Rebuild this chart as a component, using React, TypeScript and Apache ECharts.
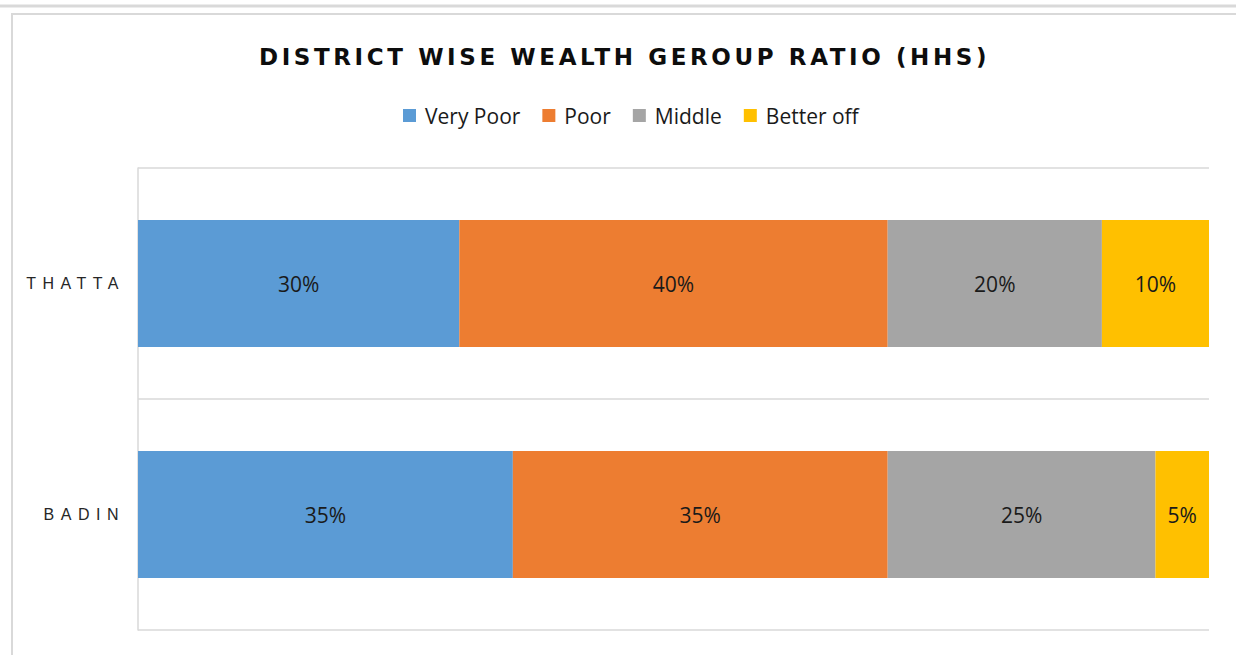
import React, { useEffect, useRef } from "react";
import * as echarts from "echarts";

const titleText = "DISTRICT WISE WEALTH GEROUP RATIO (HHS)";
const districts = ["BADIN", "THATTA"];
const seriesNames = ["Very Poor", "Poor", "Middle", "Better off"];
const veryPoor = [35, 30];
const poor = [35, 40];
const middle = [25, 20];
const betterOff = [5, 10];
const colors = ["#5b9bd5", "#ed7d31", "#a5a5a5", "#ffc000"];

const FONT = "Open Sans";

const css = `
#chart-box svg text[style*="DejaVu"], #chart-box svg text[font-family*="DejaVu"] { letter-spacing: 3.6px; }
#chart-box svg text[style*="Liberation"], #chart-box svg text[font-family*="Liberation"] { letter-spacing: 6.5px; }
`;

export default function App() {
  const ref = useRef<HTMLDivElement>(null);
  useEffect(() => {
    if (!ref.current) return;
    const chart = echarts.init(ref.current, null, { renderer: "svg" });
    const data = [veryPoor, poor, middle, betterOff];
    chart.setOption({
      animation: false,
      backgroundColor: "#ffffff",
      title: {
        text: titleText,
        left: 254,
        top: 40,
        padding: 5,
        textStyle: {
          fontFamily: "DejaVu Sans",
          fontWeight: "bold",
          fontSize: 23,
          color: "#0d0d0d",
        },
      },
      legend: {
        top: 100,
        left: 398,
        itemWidth: 13,
        itemHeight: 13,
        itemGap: 22,
        icon: "rect",
        textStyle: {
          fontFamily: FONT,
          fontSize: 21,
          color: "#1a1a1a",
          padding: [0, 0, 0, 4],
        },
        data: seriesNames,
      },
      grid: { left: 138, right: 27, top: 168, bottom: 25, containLabel: false },
      xAxis: {
        type: "value",
        min: 0,
        max: 100,
        show: false,
      },
      yAxis: {
        type: "category",
        data: districts,
        axisLine: { show: true, lineStyle: { color: "#d9d9d9", width: 1.5 } },
        axisTick: { show: false },
        splitLine: { show: true, lineStyle: { color: "#d9d9d9", width: 1.5 } },
        axisLabel: {
          fontFamily: "Liberation Sans",
          fontSize: 16,
          color: "#262626",
          margin: 13,
        },
      },
      series: seriesNames.map((name, i) => ({
        name,
        type: "bar",
        stack: "total",
        barWidth: "55%",
        itemStyle: { color: colors[i] },
        label: {
          show: true,
          position: "inside",
          formatter: "{c}%",
          fontFamily: FONT,
          fontSize: 21,
          color: "#1a1a1a",
        },
        data: data[i],
      })),
      graphic: [
        {
          type: "line",
          shape: { x1: 0, y1: 6, x2: 1236, y2: 6 },
          style: { stroke: "#d9d9d9", lineWidth: 3 },
          silent: true,
        },
        {
          type: "rect",
          shape: { x: 12, y: 14, width: 1300, height: 700 },
          style: { fill: "none", stroke: "#d9d9d9", lineWidth: 2 },
          silent: true,
        },
      ],
    });
    return () => chart.dispose();
  }, []);
  return (
    <>
      <style>{css}</style>
      <div
        id="chart-box"
        ref={ref}
        style={{ position: "fixed", left: 0, top: 0, width: 1236, height: 655 }}
      />
    </>
  );
}
